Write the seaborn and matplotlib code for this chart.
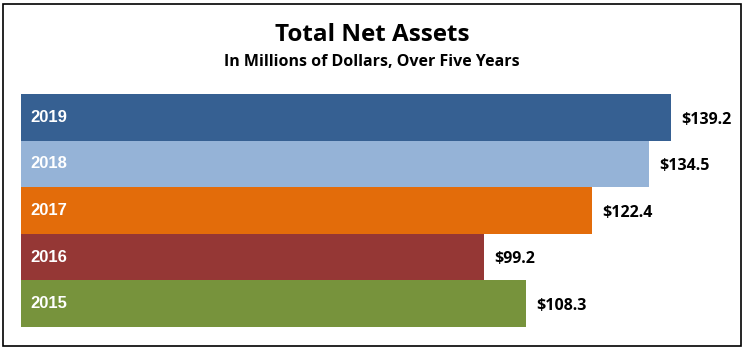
import matplotlib
matplotlib.use("Agg")
import matplotlib.pyplot as plt
import seaborn as sns
import pandas as pd
from matplotlib.patches import Rectangle

years = ["2019", "2018", "2017", "2016", "2015"]
values = [139.2, 134.5, 122.4, 99.2, 108.3]
colors = ["#366092", "#95B3D7", "#E36C0A", "#953735", "#77933C"]
title = "Total Net Assets"
subtitle = "In Millions of Dollars, Over Five Years"

sns.set_theme(style="white")
plt.rcParams['font.family'] = ['Open Sans', 'Liberation Sans', 'DejaVu Sans']
plt.rcParams['text.color'] = 'black'

W, H = 746, 352
fig = plt.figure(figsize=(W/100, H/100), dpi=100)
ax = fig.add_axes([21/W, 1-327/H, 700/W, (327-94)/H])

df = pd.DataFrame({"year": years, "value": values})
sns.barplot(data=df, x="value", y="year", hue="year", palette=colors,
            order=years, hue_order=years, width=1.0, legend=False, ax=ax,
            edgecolor="none", linewidth=0, saturation=1)
ax.set_xlim(0, 150)
ax.set_ylim(4.5, -0.5)
ax.axis("off")

for i, (y, v) in enumerate(zip(years, values)):
    ax.text(2.1, i, y, color="white", fontweight="bold", fontsize=12,
            va="center", ha="left", family=['Liberation Sans', 'DejaVu Sans'])
    ax.text(v + 2.2, i + 0.05, f"${v:.1f}", color="black", fontweight="bold",
            fontsize=11.5, va="center", ha="left")

fig.text(372/W, 1-35/H, title, ha="center", va="center", fontsize=17.5, fontweight="bold")
fig.text(372/W, 1-62/H, subtitle, ha="center", va="center", fontsize=11.5, fontweight="bold")

fig.patches.append(Rectangle((3/W, 1-346/H), 738/W, 342/H, transform=fig.transFigure,
                             fill=False, edgecolor="black", linewidth=1.2))

fig.savefig("out.png", dpi=100)
